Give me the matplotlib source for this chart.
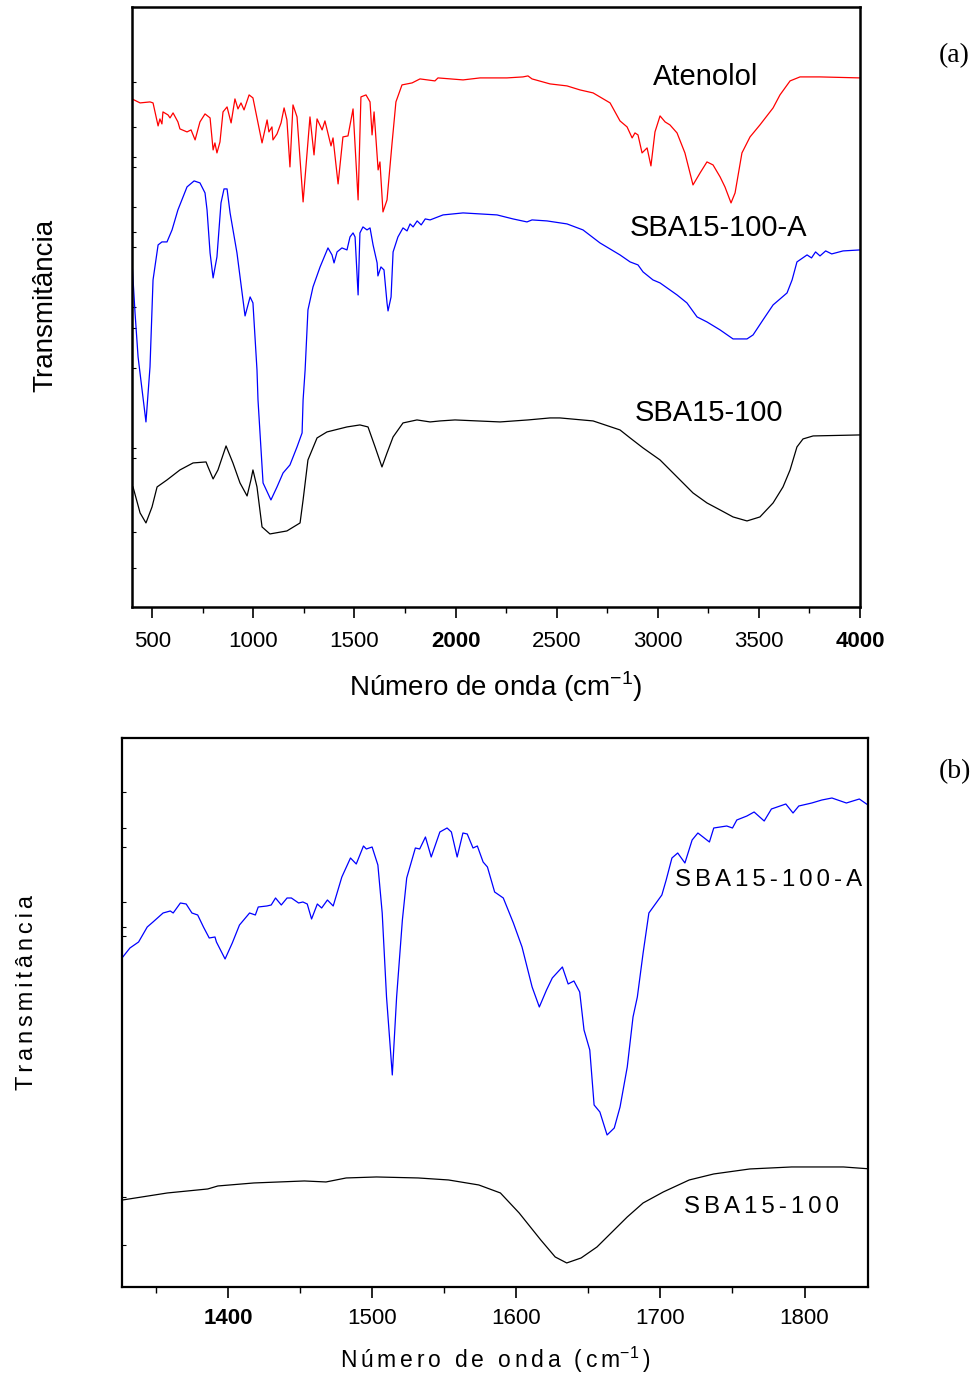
import numpy as np
import matplotlib
matplotlib.use('Agg')
import matplotlib.pyplot as plt

plt.rcParams['font.family'] = ['Liberation Sans', 'DejaVu Sans']
plt.rcParams['mathtext.fontset'] = 'custom'
plt.rcParams['mathtext.rm'] = 'Liberation Sans'

# (a) full range spectra: wavenumber (cm-1) and transmittance (arb. units)
atenolol_wn = [400, 440, 489, 504, 529, 538, 548, 553, 578, 588, 603, 627, 637, 672, 692, 712, 736, 761, 786,
               801, 810, 820, 835, 850, 870, 890, 909, 924, 939, 954, 979, 998, 1018, 1043, 1068, 1077, 1092,
               1097, 1117, 1137, 1152, 1166, 1181, 1196, 1216, 1246, 1280, 1300, 1315, 1340, 1354, 1384, 1394,
               1419, 1443, 1468, 1493, 1518, 1532, 1557, 1577, 1587, 1597, 1617, 1626, 1641, 1661, 1686, 1705,
               1735, 1785, 1824, 1898, 1913, 2037, 2121, 2254, 2333, 2358, 2378, 2467, 2551, 2615, 2680, 2764,
               2813, 2848, 2873, 2887, 2902, 2922, 2947, 2966, 2986, 3011, 3036, 3060, 3095, 3134, 3174, 3209,
               3243, 3273, 3308, 3332, 3362, 3382, 3416, 3456, 3505, 3570, 3604, 3654, 3703, 3802, 4000]
atenolol_t = [508, 504, 505, 504, 481, 488, 483, 495, 492, 489, 494, 485, 478, 475, 477, 467, 485, 493, 489,
              457, 464, 454, 465, 495, 500, 484, 508, 498, 504, 497, 512, 509, 489, 464, 487, 475, 480,
              467, 473, 484, 499, 487, 440, 502, 490, 405, 490, 452, 488, 477, 486, 461, 469,
              423, 470, 471, 498, 407, 510, 512, 505, 472, 495, 437, 445, 395, 407, 464, 505,
              522, 524, 528, 526, 529, 527, 529, 529, 530, 531, 528, 523, 521, 517, 514, 504,
              486, 480, 469, 474, 472, 454, 459, 441, 475, 491, 485, 482, 474, 454, 422, 434,
              445, 442, 430, 420, 404, 414, 454, 470, 482, 499, 512, 526, 530, 530, 529]

sba_a_wn = [400, 415, 430, 469, 489, 504, 529, 548, 573, 598, 627, 672, 707, 736, 761, 771, 786, 801, 820,
            840, 855, 870, 885, 919, 959, 984, 998, 1018, 1023, 1048, 1087, 1117, 1147, 1181, 1216, 1241,
            1246, 1256, 1270, 1295, 1330, 1369, 1389, 1399, 1414, 1438, 1463, 1478, 1493, 1503, 1518, 1527,
            1542, 1562, 1577, 1592, 1612, 1616, 1631, 1646, 1661, 1666, 1681, 1691, 1715, 1740, 1760, 1775,
            1790, 1810, 1830, 1850, 1874, 1938, 2037, 2121, 2205, 2284, 2353, 2378, 2452, 2551, 2630, 2714,
            2813, 2863, 2902, 2927, 2976, 3011, 3095, 3144, 3194, 3243, 3308, 3372, 3441, 3471, 3520, 3570,
            3639, 3664, 3688, 3738, 3760, 3780, 3802, 3830, 3860, 3916, 4000]
sba_a_t = [345, 294, 250, 185, 240, 327, 362, 365, 365, 377, 397, 420, 426, 424, 414, 397, 354, 329, 350,
           404, 418, 418, 394, 354, 291, 310, 304, 237, 207, 124, 107, 120, 134, 142, 160, 174,
           207, 237, 297, 320, 340, 359, 352, 344, 355, 359, 357, 370, 374, 370, 312, 374,
           380, 377, 379, 362, 344, 331, 340, 337, 304, 296, 310, 355, 370, 379, 376, 383,
           380, 386, 382, 388, 387, 392, 394, 393, 392, 388, 385, 387, 386, 383, 377, 364,
           352, 345, 342, 335, 327, 324, 312, 304, 290, 285, 277, 268, 268, 272, 287, 302,
           314, 327, 345, 352, 349, 355, 351, 356, 353, 356, 357]

sba_wn = [405, 440, 469, 499, 524, 573, 637, 702, 766, 776, 801, 825, 865, 899, 934, 969, 988, 998, 1018,
          1043, 1082, 1166, 1231, 1246, 1270, 1315, 1364, 1463, 1527, 1567, 1602, 1636, 1661, 1691, 1740,
          1809, 1874, 1923, 1997, 2220, 2358, 2467, 2516, 2680, 2813, 2863, 2927, 3011, 3095, 3174, 3243,
          3308, 3372, 3441, 3505, 3570, 3619, 3654, 3688, 3718, 3768, 4000]
sba_t = [120, 94, 84, 100, 120, 127, 137, 144, 145, 140, 128, 137, 161, 144, 124, 111, 127, 137, 120,
         80, 73, 76, 84, 107, 147, 169, 175, 180, 182, 180, 160, 140, 154, 170, 184,
         187, 185, 186, 187, 185, 187, 189, 189, 186, 177, 169, 159, 147, 130, 114, 104,
         97, 90, 86, 90, 104, 120, 137, 160, 168, 171, 172]

# (b) 1330-1845 cm-1 detail
zoom_a_wn = [1326.5, 1332, 1338, 1344, 1348, 1355, 1360, 1362, 1367, 1371, 1375, 1379, 1383, 1387, 1391, 1392,
             1398, 1403, 1408, 1415, 1419, 1421, 1427, 1430, 1433, 1437, 1441, 1444, 1449, 1452, 1455, 1458,
             1462, 1465, 1469, 1473, 1479, 1485, 1489, 1494, 1496, 1500, 1504, 1507, 1510, 1514, 1517, 1521,
             1524, 1530, 1533, 1537, 1541, 1547, 1552, 1555, 1559, 1563, 1566, 1570, 1573, 1577, 1580, 1585,
             1591, 1598, 1604, 1611, 1616, 1621, 1625, 1632, 1636, 1640, 1644, 1647, 1651, 1654, 1658, 1663,
             1668, 1672, 1677, 1681, 1684, 1688, 1692, 1697, 1701, 1704, 1708, 1712, 1717, 1722, 1726, 1734,
             1737, 1746, 1750, 1753, 1760, 1765, 1772, 1777, 1787, 1792, 1796, 1805, 1812, 1819, 1829, 1838, 1844]
zoom_a_t = [329, 339, 345, 360, 365, 374, 376, 374, 384, 383, 374, 372, 360, 349, 350, 345,
            328, 344, 362, 374, 372, 380, 381, 382, 389, 382, 389, 389, 384, 385, 383, 368,
            383, 379, 387, 381, 410, 429, 423, 441, 438, 440, 422, 374, 290, 212, 290, 367,
            409, 439, 438, 450, 430, 455, 459, 455, 430, 454, 453, 439, 441, 425, 420, 395,
            389, 364, 340, 300, 280, 297, 309, 320, 303, 306, 295, 257, 237, 182, 175, 152,
            159, 180, 220, 270, 290, 334, 374, 384, 392, 407, 429, 434, 424, 447, 454, 445,
            459, 461, 459, 467, 471, 475, 466, 478, 483, 474, 481, 484, 487, 489, 484, 488, 482]

zoom_wn = [1327, 1358, 1386, 1393, 1418, 1453, 1468, 1482, 1503, 1532, 1553, 1574, 1589, 1602, 1617, 1627,
           1635, 1645, 1656, 1677, 1688, 1702, 1720, 1737, 1762, 1791, 1809, 1827, 1846]
zoom_t = [87, 94, 98, 101, 104, 106, 105, 109, 110, 109, 107, 102, 94, 74, 47, 30,
          24, 29, 40, 70, 84, 95, 107, 113, 118, 120, 120, 120, 118]

left_ticks_a = [39, 75, 149, 159, 239, 279, 300, 360, 375, 400, 440, 450, 480, 525]
left_ticks_b = [42, 90, 351, 360, 385, 440, 459, 495]

SP = '\u2006'  # six-per-em space, used as letter spacing in panel (b)


def spaced(s):
    return SP.join(s)


def style_axes(ax, lw, pad):
    for sp in ax.spines.values():
        sp.set_linewidth(lw)
    ax.tick_params(axis='x', which='major', direction='out', length=8, width=1.2,
                   labelsize=16, pad=pad)
    ax.tick_params(axis='x', which='minor', direction='out', length=4, width=1.0)
    ax.tick_params(axis='x', top=False)
    ax.tick_params(axis='y', which='both', direction='in', length=3, width=0.8,
                   labelleft=False, right=False)


fig = plt.figure(figsize=(9.8, 13.81), dpi=100)

# ---- panel (a)
ax1 = fig.add_axes([0.1347, 0.5605, 0.7429, 0.4345])
ax1.plot(atenolol_wn, atenolol_t, color='#ff0000', lw=0.9)
ax1.plot(sba_a_wn, sba_a_t, color='#0000ff', lw=0.9)
ax1.plot(sba_wn, sba_t, color='black', lw=0.9)
ax1.set_xlim(400, 4000)
ax1.set_ylim(0, 600)
ax1.set_xticks(np.arange(500, 4001, 500))
ax1.set_xticks(np.arange(750, 4000, 500), minor=True)
ax1.set_yticks(left_ticks_a)
style_axes(ax1, 1.8, 9)
for lab in ax1.get_xticklabels():
    if lab.get_text() in ('2000', '4000'):
        lab.set_fontweight('bold')

ax1.text(3238, 530, 'Atenolol', fontsize=21, ha='center', va='center')
ax1.text(3298, 379, 'SBA15-100-A', fontsize=21, ha='center', va='center')
ax1.text(3253, 194, 'SBA15-100', fontsize=21, ha='center', va='center')
ax1.text(-0.1195, 0.503, 'Transmitância', transform=ax1.transAxes, fontsize=20,
         rotation=90, ha='center', va='center')
ax1.text(0.5, -0.133, r'Número de onda (cm$^{\mathregular{-1}}$)', transform=ax1.transAxes,
         fontsize=20, ha='center', va='center')

# ---- panel (b)
ax2 = fig.add_axes([0.1245, 0.0681, 0.7612, 0.3975])
ax2.plot(zoom_a_wn, zoom_a_t, color='#0000ff', lw=0.9)
ax2.plot(zoom_wn, zoom_t, color='black', lw=0.9)
ax2.set_xlim(1326.5, 1844)
ax2.set_ylim(0, 549)
ax2.set_xticks(np.arange(1400, 1801, 100))
ax2.set_xticks(np.arange(1350, 1845, 100), minor=True)
ax2.set_yticks(left_ticks_b)
style_axes(ax2, 1.6, 7)
for lab in ax2.get_xticklabels():
    if lab.get_text() == '1400':
        lab.set_fontweight('bold')

ax2.text(1775, 407, spaced('SBA15-100-A'), fontsize=17.3, ha='center', va='center')
ax2.text(1770, 80, spaced('SBA15-100'), fontsize=17.3, ha='center', va='center')
ax2.text(-0.127, 0.537, spaced('Transmitância'), transform=ax2.transAxes, fontsize=17,
         rotation=90, ha='center', va='center')
ax2.text(0.5, -0.133, spaced('Número de onda (cm') + r'$^{\mathregular{-1}}$' + SP + ')',
         transform=ax2.transAxes, fontsize=16.5, ha='center', va='center')

fig.text(0.974, 0.960, '(a)', family=['Liberation Serif', 'DejaVu Serif'], fontsize=20,
         ha='center', va='center')
fig.text(0.974, 0.441, '(b)', family=['Liberation Serif', 'DejaVu Serif'], fontsize=20,
         ha='center', va='center')

fig.savefig('out.png', dpi=100)
